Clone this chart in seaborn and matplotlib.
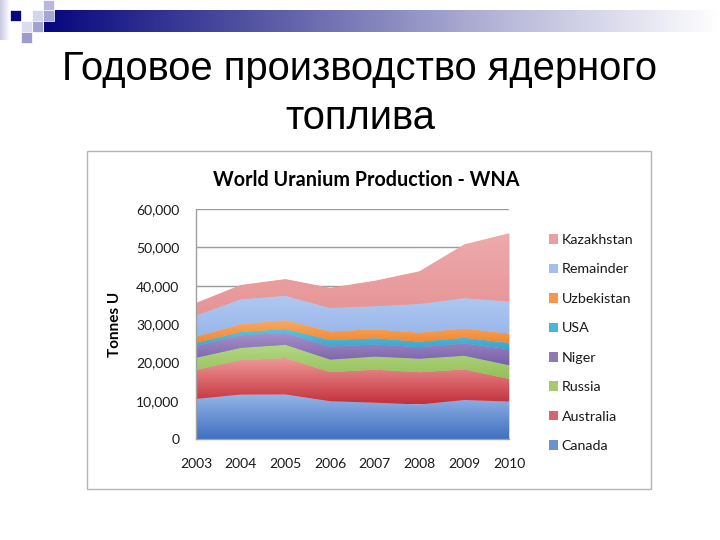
import numpy as np
import pandas as pd
import seaborn as sns
import matplotlib
matplotlib.use("Agg")
import matplotlib.pyplot as plt
from matplotlib.colors import LinearSegmentedColormap
from matplotlib.patches import Rectangle, PathPatch

# data (tonnes U)
years = [2003, 2004, 2005, 2006, 2007, 2008, 2009, 2010]
canada = [10457, 11597, 11628, 9862, 9476, 9000, 10173, 9783]
australia = [7572, 8982, 9516, 7593, 8611, 8430, 7982, 5900]
russia = [3150, 3200, 3431, 3262, 3413, 3521, 3564, 3562]
niger = [3143, 3282, 3093, 3434, 3153, 3032, 3243, 4198]
usa = [779, 878, 1039, 1672, 1654, 1430, 1453, 1660]
uzbekistan = [1598, 2016, 2300, 2260, 2320, 2338, 2429, 2400]
remainder = [5493, 6504, 6355, 6082, 6018, 7492, 7908, 8357]
kazakhstan = [3300, 3719, 4357, 5279, 6637, 8521, 14020, 17803]

series = ["Canada", "Australia", "Russia", "Niger", "USA", "Uzbekistan", "Remainder", "Kazakhstan"]
df = pd.DataFrame({"Canada": canada, "Australia": australia, "Russia": russia,
                   "Niger": niger, "USA": usa, "Uzbekistan": uzbekistan,
                   "Remainder": remainder, "Kazakhstan": kazakhstan}, index=years)

# (bottom colour, top colour) for excel-like gradient fills
grad = {
    "Canada": ("#3f70c0", "#95b5e8"),
    "Australia": ("#c2303a", "#f09a9a"),
    "Russia": ("#94be58", "#b4d884"),
    "Niger": ("#7660a6", "#a792cc"),
    "USA": ("#36a4cc", "#62c4e0"),
    "Uzbekistan": ("#f08830", "#f8aa66"),
    "Remainder": ("#98b6ea", "#b0c8f2"),
    "Kazakhstan": ("#e69496", "#eeaaab"),
}

sns.set_theme(style="white")
plt.rcParams["font.family"] = ["Lato", "DejaVu Sans"]

fig = plt.figure(figsize=(7.2, 5.4), dpi=100)

# slide background: header bar, squares, title
bg = fig.add_axes([0, 0, 1, 1], zorder=0)
bg.set_xlim(0, 720)
bg.set_ylim(540, 0)
bg.axis("off")
bar = LinearSegmentedColormap.from_list("bar", ["#07077f", "#5a5aa6", "#b4b4d8", "#ffffff"])
bg.imshow(np.linspace(0, 1, 512).reshape(1, -1), cmap=bar, aspect="auto",
          extent=[44, 720, 32, 10], zorder=1)
bg.imshow(np.linspace(0, 1, 64).reshape(1, -1), cmap=LinearSegmentedColormap.from_list("l", ["#c8c8e4", "#ffffff"]),
          aspect="auto", extent=[0, 10, 40, 0], zorder=1)
for x, y, c in [(10, 10, "#07077f"), (43, 0, "#b8b8dc"), (32, 10, "#d4d4ec"),
                (32, 21, "#a2a2d2"), (21, 21, "#dcdcf0"), (21, 32, "#9c9ccc"),
                (43, 10, "#a6a6d4")]:
    bg.add_patch(Rectangle((x, y), 11, 11, facecolor=c, edgecolor="white", lw=0.5, zorder=2))

title_font = ["Liberation Sans", "DejaVu Sans"]
bg.text(360, 80, "Годовое производство ядерного", ha="center", va="baseline",
        fontsize=28.8, family=title_font, color="black")
bg.text(360, 129, "топлива", ha="center", va="baseline",
        fontsize=28.8, family=title_font, color="black")

# chart frame
bg.add_patch(Rectangle((87, 151), 564, 338, facecolor="white", edgecolor="#b4b4b4", lw=1.0, zorder=2))
bg.text(366, 180, "World Uranium Production - WNA", ha="center", va="center",
        fontsize=14.2, fontweight="bold", color="black", zorder=3)

ax = fig.add_axes([196 / 720, 1 - 439 / 540, 313 / 720, 230 / 540], zorder=2)
ax.patch.set_alpha(0)

cum = df[series].cumsum(axis=1)
handles = []
for i, name in enumerate(series):
    lo = np.zeros(len(years)) if i == 0 else cum[series[i - 1]].values
    hi = cum[name].values
    c_bot, c_top = grad[name]
    poly = ax.fill_between(years, lo, hi, color=c_top, lw=0, zorder=2)
    cmap = LinearSegmentedColormap.from_list(name, [c_bot, c_top])
    im = ax.imshow(np.linspace(0, 1, 256).reshape(-1, 1), cmap=cmap, aspect="auto",
                   origin="lower", extent=[years[0], years[-1], lo.min(), hi.max()], zorder=2.1)
    im.set_clip_path(PathPatch(poly.get_paths()[0], transform=ax.transData))
    handles.append(Rectangle((0, 0), 1, 1, facecolor=sns.blend_palette([c_bot, c_top], 3)[1], lw=0))

ax.set_xlim(2003, 2010)
ax.set_ylim(0, 60000)
ax.set_aspect("auto")
ax.set_xticks(years)
ax.set_yticks(range(0, 60001, 10000))
ax.yaxis.set_major_formatter(matplotlib.ticker.StrMethodFormatter("{x:,.0f}"))
ax.grid(axis="y", color="#9c9c9c", lw=1.0, zorder=1)
ax.set_axisbelow(True)
sns.despine(ax=ax, top=True, right=True)
for s in ["left", "bottom"]:
    ax.spines[s].set_color("#a0a0a0")
    ax.spines[s].set_linewidth(1.0)
    ax.spines[s].set_zorder(3)
ax.tick_params(axis="both", which="major", direction="out", length=4, width=1,
               color="#a0a0a0", labelsize=10, labelcolor="#1a1a1a")
ax.tick_params(axis="y", pad=8)
ax.tick_params(axis="x", pad=10)
ax.set_ylabel("Tonnes U", fontsize=11, fontweight="bold", color="black", labelpad=10)

leg = fig.legend(handles[::-1], series[::-1], loc="upper left",
                 bbox_to_anchor=(549 / 720, 1 - 234 / 540), frameon=False,
                 fontsize=10.3, handlelength=0.65, handleheight=0.65, handletextpad=0.25,
                 labelspacing=1.22, borderpad=0, borderaxespad=0)
for t in leg.get_texts():
    t.set_color("#1a1a1a")

fig.savefig("out.png", dpi=100)
